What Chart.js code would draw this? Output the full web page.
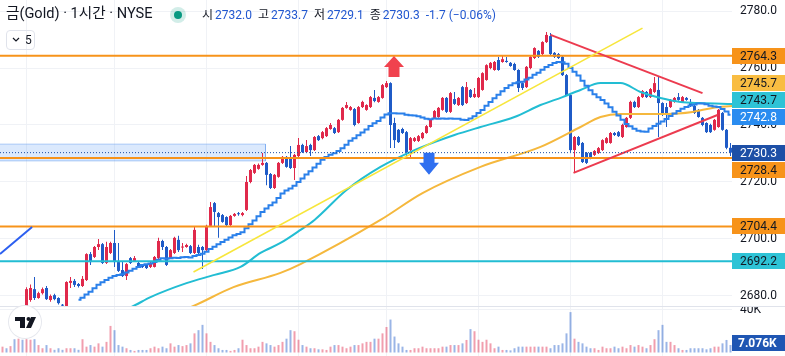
<!DOCTYPE html>
<html><head><meta charset="utf-8">
<script src="https://cdn.jsdelivr.net/npm/chart.js@4.4.0/dist/chart.umd.min.js"></script>
<style>
html,body{margin:0;padding:0;background:#fff;width:785px;height:356px;overflow:hidden;}
#wrap{position:relative;width:785px;height:356px;font-family:Roboto,"Noto Sans CJK KR",sans-serif;color:#131722;}
#pc{position:absolute;left:0;top:0;}
#vc{position:absolute;left:0;top:307px;}
#sep{position:absolute;left:0;top:306px;width:785px;height:1px;background:#e0e3eb;}
#title{position:absolute;left:6px;top:3px;font-size:14.6px;line-height:20px;font-family:Roboto,"Noto Sans CJK KR",sans-serif;white-space:nowrap;}
#dot{position:absolute;left:170px;top:7px;width:16px;height:16px;border-radius:50%;background:rgba(8,153,129,0.18);}
#dot i{position:absolute;left:4px;top:4px;width:8px;height:8px;border-radius:50%;background:#089981;}
#ohlc{position:absolute;left:202px;top:5px;font-size:12px;line-height:20px;white-space:nowrap;}
#ohlc .v{color:#2157d0;margin-right:6px;}
#ohlc .k{color:#131722;margin-right:2px;}
#box5{position:absolute;left:6px;top:30px;width:27px;height:18px;border:1px solid #e0e3eb;border-radius:4px;font-size:12px;line-height:18px;}
#box5 span{position:absolute;left:18px;top:0;}
#box5 svg{position:absolute;left:5px;top:6px;}
#logo{position:absolute;left:9px;top:306px;width:32px;height:32px;border-radius:50%;background:#fff;box-shadow:0 0 0 1px #e6e8ee;}
</style></head>
<body><div id="wrap">
<canvas id="pc" width="785" height="306"></canvas>
<div id="sep"></div>
<canvas id="vc" width="785" height="49"></canvas>
<div id="title">금(Gold) · 1시간 · NYSE</div>
<div id="dot"><i></i></div>
<div id="ohlc"><span class="k">시</span><span class="v">2732.0</span><span class="k">고</span><span class="v">2733.7</span><span class="k">저</span><span class="v">2729.1</span><span class="k">종</span><span class="v">2730.3</span><span class="v">-1.7 (−0.06%)</span></div>
<div id="box5"><svg width="8" height="6" viewBox="0 0 8 6"><polyline points="1,1 4,4 7,1" fill="none" stroke="#131722" stroke-width="1.2"/></svg><span>5</span></div>
<div id="logo"><svg width="32" height="32" viewBox="0 0 32 32"><rect x="6" y="11" width="10" height="4" fill="#131722"/><rect x="11" y="11" width="5" height="11" fill="#131722"/><circle cx="19.5" cy="13" r="2" fill="#131722"/><polygon points="22,11 27,11 22,22 17,22" fill="#131722"/></svg></div>
</div>
<script>
// ---------- data ----------
const opens = [2671.0,2672.0,2671.0,2673.0,2672.0,2674.5,
2674.0,2678.6,2682.4,2679.3,2681.0,2682.8,2678.6,2680.3,2679.3,2676.9,
2676.5,2684.6,2685.3,2684.2,2683.5,2685.6,2694.7,2693.7,2697.2,2698.2,
2691.6,2695.1,2698.6,2691.9,2689.1,2687.0,2693.3,2692.3,2691.6,2690.9,
2690.9,2690.2,2690.2,2693.3,2699.3,2697.2,2693.3,2695.1,2699.7,2697.0,
2697.2,2697.5,2695.1,2697.2,2697.2,2696.1,2704.6,2712.6,2709.1,2708.4,
2707.7,2704.9,2708.1,2708.9,2708.4,2710.2,2720.0,2723.2,2724.6,2726.0,
2726.7,2722.8,2717.9,2721.8,2726.7,2728.8,2728.4,2724.9,2729.1,2733.0,
2730.5,2733.0,2731.2,2736.1,2735.4,2736.1,2738.6,2738.9,2737.5,2741.8,
2746.0,2745.3,2745.6,2740.7,2746.3,2745.3,2746.3,2749.5,2748.1,2749.5,
2753.3,2754.7,2740.7,2738.3,2738.6,2737.5,2731.2,2734.4,2734.4,2735.4,
2737.2,2739.3,2742.5,2742.8,2745.3,2749.5,2744.6,2749.1,2747.0,2753.3,
2747.7,2752.3,2749.8,2749.8,2752.3,2755.8,2760.0,2759.3,2762.8,2762.1,
2762.5,2761.8,2761.4,2759.3,2754.7,2753.3,2760.0,2763.5,2766.0,2764.9,
2769.1,2771.2,2765.3,2764.9,2763.9,2757.5,2750.5,2731.2,2735.8,2733.7,
2730.2,2730.2,2729.5,2730.2,2731.2,2733.7,2733.7,2737.2,2737.5,2735.8,
2739.3,2742.5,2748.1,2746.3,2749.8,2751.6,2749.8,2751.6,2752.3,2747.7,
2746.3,2746.3,2748.1,2749.8,2748.1,2749.5,2748.1,2746.7,2745.3,2742.5,
2740.7,2740.0,2738.3,2739.3,2744.2,2738.3,2732.0];
const highs = [2673.0,2674.0,2673.5,2675.0,2675.5,2676.0,
2683.1,2684.0,2686.7,2681.5,2683.0,2683.5,2680.5,2680.8,2679.6,2677.2,
2685.2,2686.7,2686.0,2684.6,2687.0,2695.0,2695.4,2697.5,2700.0,2698.6,
2699.0,2699.0,2703.2,2698.6,2692.3,2691.6,2693.7,2694.0,2691.9,2691.2,
2691.2,2692.0,2694.0,2700.4,2699.7,2697.5,2696.5,2700.8,2701.1,2698.6,
2698.3,2697.9,2704.6,2698.0,2697.5,2705.0,2713.0,2713.0,2709.5,2708.8,
2708.0,2708.4,2709.1,2709.5,2709.5,2722.1,2724.6,2726.3,2726.5,2730.2,
2727.0,2723.2,2722.8,2727.0,2729.1,2729.1,2732.6,2729.8,2735.4,2733.4,
2734.7,2733.4,2736.1,2736.5,2737.9,2739.3,2740.7,2739.3,2742.1,2746.3,
2748.1,2746.7,2746.0,2746.7,2748.5,2747.3,2750.2,2752.3,2750.2,2754.4,
2755.4,2755.0,2742.5,2738.6,2739.0,2737.9,2735.8,2735.8,2736.5,2737.5,
2740.0,2742.1,2745.3,2746.3,2749.8,2749.8,2751.6,2751.6,2749.8,2753.7,
2755.1,2752.6,2753.0,2756.8,2758.5,2761.3,2762.1,2762.5,2763.9,2764.2,
2763.9,2762.1,2761.8,2759.6,2755.0,2760.7,2764.2,2767.3,2766.3,2769.4,
2772.6,2772.3,2765.6,2765.3,2764.2,2757.9,2750.9,2736.1,2736.1,2734.0,
2730.5,2730.5,2731.2,2732.3,2735.0,2735.8,2737.5,2737.5,2737.9,2740.4,
2742.8,2748.5,2748.5,2750.2,2752.3,2751.9,2753.0,2756.8,2756.8,2748.0,
2747.7,2749.1,2749.8,2751.2,2750.2,2749.8,2749.1,2747.0,2745.6,2742.8,
2741.0,2740.4,2742.1,2745.6,2744.6,2738.6,2733.7];
const lows = [2669.0,2670.0,2669.5,2671.0,2671.0,2672.0,
2673.0,2678.0,2678.6,2679.0,2680.5,2678.6,2678.0,2678.5,2677.0,2675.5,
2676.0,2682.8,2683.2,2683.0,2683.2,2685.3,2690.9,2693.3,2696.1,2691.2,
2691.2,2694.7,2690.2,2688.4,2686.7,2685.6,2691.2,2692.0,2689.8,2689.8,
2689.5,2689.8,2690.0,2693.0,2696.1,2690.5,2693.0,2694.7,2695.4,2695.4,
2696.9,2694.7,2694.7,2694.7,2689.5,2695.8,2704.3,2704.2,2700.4,2705.7,
2704.6,2704.6,2707.8,2708.2,2708.0,2709.8,2719.6,2722.8,2724.3,2725.7,
2718.9,2717.5,2717.5,2721.5,2726.3,2725.0,2724.6,2720.7,2728.8,2730.2,
2730.2,2729.1,2730.9,2734.4,2735.0,2735.8,2738.3,2736.8,2737.2,2741.5,
2745.7,2745.0,2739.6,2740.4,2746.0,2745.0,2746.0,2748.0,2747.8,2749.2,
2753.0,2731.9,2731.9,2733.7,2736.8,2728.8,2728.8,2734.0,2734.0,2735.0,
2736.9,2739.0,2742.1,2742.5,2745.0,2744.2,2744.2,2747.0,2746.7,2746.7,
2747.4,2749.5,2749.5,2749.5,2752.0,2755.5,2759.6,2759.0,2759.0,2761.8,
2761.8,2760.4,2759.0,2751.6,2752.3,2753.0,2759.6,2763.2,2763.5,2764.6,
2768.8,2764.6,2763.5,2763.2,2757.2,2750.2,2730.5,2723.2,2732.6,2726.7,
2726.3,2728.0,2729.1,2729.8,2730.9,2733.4,2733.4,2736.1,2735.8,2735.4,
2739.0,2742.1,2746.0,2746.0,2749.5,2749.5,2749.5,2751.2,2735.8,2743.2,
2739.3,2746.0,2747.8,2748.5,2747.8,2748.5,2746.3,2743.9,2742.5,2739.6,
2737.2,2737.2,2738.0,2739.0,2738.0,2731.5,2729.1];
const closes = [2672.0,2671.0,2673.0,2672.0,2674.5,2673.5,
2682.4,2682.8,2679.3,2681.0,2682.4,2678.9,2680.0,2678.9,2677.5,2676.6,
2684.9,2685.3,2683.9,2683.5,2686.0,2694.7,2691.9,2697.2,2698.2,2691.6,
2697.2,2698.6,2691.9,2688.8,2687.0,2691.2,2691.6,2693.3,2690.2,2690.2,
2689.8,2691.6,2693.7,2699.3,2697.2,2690.9,2696.1,2700.4,2696.1,2697.3,
2697.9,2695.1,2703.2,2695.1,2696.1,2704.6,2711.2,2709.5,2707.7,2706.0,
2704.9,2708.1,2708.8,2708.7,2709.1,2720.0,2724.2,2726.0,2726.0,2726.7,
2722.5,2717.9,2722.5,2726.7,2728.8,2725.3,2724.9,2729.5,2733.0,2730.5,
2732.6,2731.2,2735.8,2734.7,2737.5,2738.9,2740.0,2737.2,2741.8,2746.0,
2747.0,2746.3,2740.0,2746.3,2748.1,2747.0,2749.8,2748.4,2749.8,2754.0,
2754.7,2740.0,2734.7,2734.0,2737.2,2730.5,2735.4,2735.4,2736.1,2737.2,
2739.6,2741.8,2744.9,2746.0,2749.5,2744.6,2751.2,2747.4,2749.5,2747.0,
2753.3,2749.8,2750.9,2756.5,2758.2,2761.0,2761.8,2762.1,2759.3,2763.1,
2762.1,2760.7,2759.3,2753.0,2753.0,2760.4,2763.9,2767.0,2763.9,2769.1,
2771.6,2764.9,2763.9,2763.5,2757.5,2750.5,2731.2,2735.8,2733.0,2727.0,
2726.7,2728.4,2730.9,2731.9,2734.7,2735.4,2737.2,2736.5,2736.1,2740.0,
2742.5,2748.1,2746.3,2749.8,2751.9,2749.8,2752.6,2754.7,2747.7,2743.5,
2744.2,2748.8,2749.5,2748.8,2749.8,2748.8,2746.7,2744.2,2742.8,2740.0,
2737.5,2737.5,2741.8,2745.3,2738.3,2732.0,2730.3];
// volume in thousands
const volumesK = [5.5,4,6,12.5,13,12,12.5,12,12.5,7,
4,7,4,2.5,4,2.5,4,4,4,2.5,
12.5,5.5,7,5.5,8.6,5.5,10,25,21,7,
5.5,4,2.4,1.5,2.4,2.4,2.4,4,5.5,4,
5.5,4,8.6,5.5,7,6,7,8.6,18,21,
26,18,10,7,4,2.4,2.4,1.5,2.4,4,
12,7,4,4,5.5,10,8.6,7,5.5,7,
10,13,21,20,12,7,5.5,4,4,3,
3,2.4,5.5,7,7,5.5,4,5.5,7,7,
8.6,10,10,13,13,18,24,31,15,8.6,
5.5,2.4,2.4,4,4,5.5,4,4,4,4,
5.5,5.5,7,7,7,8.6,11.8,22,20,12,
10,12,8.6,4,5.5,2.4,2.4,2,4,5.5,
5.5,5.5,5.5,5.5,5.5,5.5,5.5,4,7,7,
8.6,18,38,13,10,8.6,5.5,4,4,2.4,
5.5,4,4,5.5,4,5.5,4,7,5.5,7,
5.5,4,7,12.5,21,26,10,10,7,4,
2.4,2.4,4,4,4,4,3,4,5.5,5.5,
8.6,11.8,7.076];

const priceTicks = [2680, 2700, 2720, 2740, 2760, 2780];
const sessionStarts = [6, 28, 51, 74, 96, 119, 142, 165];
const orangeLevels = [2764.3, 2728.4, 2704.4];
const cyanLevels = [2692.2];
const lastPrice = 2730.3;
const zoneTop = 2733.3, zoneBottom = 2727.4, zoneEnd = 65.75;
const cyanMA = [[26,2672.5],[32.75,2676.5],[37,2679.6],[46,2684.5],[53,2687.4],[59.5,2690.2],[64.5,2695.1],[69.5,2698.6],[74.5,2703.2],[78,2706.7],[86,2717.2],[94.5,2725.3],[103,2731.2],[108,2734.0],[113,2736.5],[119.5,2739.3],[128,2742.8],[134.5,2747.0],[140,2749.8],[144.5,2752.3],[149.5,2754.7],[154.5,2754.7],[159.5,2751.6],[164.5,2749.5],[169.5,2748.1],[174.5,2747.7],[182.4,2747.4]];
const goldMA = [[42,2673.5],[47.75,2676.5],[57.75,2683.1],[69.5,2688.1],[74.5,2691.2],[94.5,2706.7],[105,2716.1],[119.5,2725.3],[134.5,2732.3],[144.5,2739.3],[149.5,2742.8],[154.5,2743.9],[166,2743.9],[172.5,2744.6],[177.5,2746.0],[182.4,2746.7]];
const yellowTrend = [[47.75,2688.4],[160,2774.0]];
const redUpper = [[137,2771.6],[175,2751.2]];
const redLower = [[142.75,2723.2],[178.75,2743.5]];
const blueTrend = [[-0.625,2694.7],[7.4,2704.2]];
const arrowUp = [97.75, 2764.2];
const arrowDown = [106.5, 2722.5];
const markValues = [2764.3, 2745.7, 2743.7, 2742.8, 2730.3, 2728.4, 2704.4, 2692.2];
const lastVolumeK = 7.076;

// ---------- styles ----------
const UP = '#e0294b', DN = '#1f5bc7';
const ORANGE = '#f7931a', CYAN = '#22bdd3', GOLD = '#f5b83d', MABLUE = '#2a80ea';
const markBg = [ORANGE, '#f9bd42', '#2ec3d6', '#2a8cf0', '#1d4fa6', ORANGE, ORANGE, '#2ec3d6'];
const markFg = ['#131722', '#131722', '#131722', '#ffffff', '#ffffff', '#131722', '#131722', '#131722'];
const GRID = '#f0f2f6';
const XMIN = -0.625, XMAX = 182.375;
const YMIN = 2676.49, YMAX = 2783.86;

const idx = closes.map((_, i) => i);
const colors = idx.map(i => closes[i] >= opens[i] ? UP : DN);
const sma20 = idx.map(i => i < 19 ? null : closes.slice(i - 19, i + 1).reduce((a, b) => a + b, 0) / 20);
const pts = arr => arr.map(p => ({x: p[0], y: p[1]}));
const hline = v => [{x: XMIN, y: v}, {x: XMAX, y: v}];

Chart.defaults.font.family = 'Roboto';
Chart.defaults.font.size = 12;
Chart.defaults.color = '#131722';

function lineDS(data, color, width, order, extra) {
  return Object.assign({type: 'line', data, borderColor: color, borderWidth: width, pointRadius: 0,
    fill: false, tension: 0, order, clip: 0, spanGaps: true}, extra || {});
}
const noPad = s => { s.paddingTop = 0; s.paddingBottom = 0; s.paddingLeft = 0; s.paddingRight = 0; };

const drawPlugin = {
  id: 'drawings',
  afterDatasetsDraw(chart) {
    const {ctx, scales: {x, y}, chartArea: a} = chart;
    ctx.save();
    ctx.beginPath(); ctx.rect(a.left, a.top, a.width, a.height); ctx.clip();
    let px = Math.round(x.getPixelForValue(arrowUp[0])), py = y.getPixelForValue(arrowUp[1]);
    ctx.fillStyle = '#f0424e';
    ctx.beginPath();
    ctx.moveTo(px, py); ctx.lineTo(px + 10, py + 11); ctx.lineTo(px + 5.5, py + 11); ctx.lineTo(px + 5.5, py + 21);
    ctx.lineTo(px - 5.5, py + 21); ctx.lineTo(px - 5.5, py + 11); ctx.lineTo(px - 10, py + 11); ctx.closePath(); ctx.fill();
    px = Math.round(x.getPixelForValue(arrowDown[0])); py = y.getPixelForValue(arrowDown[1]);
    ctx.fillStyle = '#2f6ff0';
    ctx.beginPath();
    ctx.moveTo(px, py); ctx.lineTo(px + 10, py - 12); ctx.lineTo(px + 5.5, py - 12); ctx.lineTo(px + 5.5, py - 22);
    ctx.lineTo(px - 5.5, py - 22); ctx.lineTo(px - 5.5, py - 12); ctx.lineTo(px - 10, py - 12); ctx.closePath(); ctx.fill();
    ctx.restore();
  },
  afterDraw(chart) {
    const {ctx, scales: {y}, chartArea: a} = chart;
    const H = 17;
    const items = markValues.map((v, i) => ({v, y: y.getPixelForValue(v), bg: markBg[i], fg: markFg[i]}));
    const fixed = items.find(it => it.v === lastPrice);
    let prev = fixed.y;
    items.filter(it => it !== fixed && it.y <= fixed.y).sort((p, q) => q.y - p.y)
      .forEach(it => { it.y = Math.min(it.y, prev - H); prev = it.y; });
    prev = fixed.y;
    items.filter(it => it !== fixed && it.y > fixed.y).sort((p, q) => p.y - q.y)
      .forEach(it => { it.y = Math.max(it.y, prev + H); prev = it.y; });
    ctx.save();
    ctx.font = '12px Roboto';
    ctx.textBaseline = 'middle';
    items.forEach(it => {
      const cy = Math.round(it.y);
      ctx.fillStyle = it.bg;
      ctx.fillRect(a.right, cy - 8, chart.width - a.right, 16);
      ctx.fillStyle = it.fg;
      ctx.fillText(it.v.toFixed(1), a.right + 8, cy + 1);
    });
    ctx.restore();
  }
};

function makeX() {
  return {
    type: 'linear', min: XMIN, max: XMAX, display: true, offset: false,
    ticks: {display: false}, border: {display: false},
    grid: {color: GRID, drawTicks: false, offset: false},
    afterBuildTicks: s => { s.ticks = sessionStarts.map(v => ({value: v})); },
    afterFit: s => { s.height = 0; noPad(s); }
  };
}

new Chart(document.getElementById('pc'), {
  data: {
    datasets: [
      lineDS([{x: XMIN, y: zoneTop}, {x: zoneEnd, y: zoneTop}], 'rgba(120,170,240,0.55)', 1, 30,
        {fill: '+1', backgroundColor: 'rgba(33,120,243,0.16)'}),
      lineDS([{x: XMIN, y: zoneBottom}, {x: zoneEnd, y: zoneBottom}], 'rgba(120,170,240,0.55)', 1, 30),
      lineDS([{x: zoneEnd, y: zoneTop}, {x: zoneEnd, y: zoneBottom}], 'rgba(120,170,240,0.55)', 1, 30),
      {type: 'bar', data: idx.map(i => ({x: i, y: [lows[i], highs[i]]})), backgroundColor: colors,
        barThickness: 1, grouped: false, inflateAmount: 0, borderWidth: 0, minBarLength: 1, order: 12},
      {type: 'bar', data: idx.map(i => ({x: i, y: [opens[i], closes[i]]})), backgroundColor: colors,
        barThickness: 3, grouped: false, inflateAmount: 0, borderWidth: 0, minBarLength: 1, order: 11},
      lineDS(pts(goldMA), GOLD, 2, 6, {cubicInterpolationMode: 'monotone'}),
      lineDS(pts(cyanMA), CYAN, 2, 6, {cubicInterpolationMode: 'monotone'}),
      lineDS(idx.map(i => ({x: i, y: sma20[i]})), MABLUE, 2, 5, {stepped: 'middle'}),
      ...orangeLevels.map(v => lineDS(hline(v), ORANGE, 2, 3)),
      ...cyanLevels.map(v => lineDS(hline(v), CYAN, 2, 3)),
      lineDS(pts(yellowTrend), '#f7e63c', 1.6, 2),
      lineDS(pts(redUpper), '#ec3b4f', 2, 2),
      lineDS(pts(redLower), '#ec3b4f', 2, 2),
      lineDS(pts(blueTrend), '#2c5ff0', 2, 2),
      lineDS(hline(lastPrice), '#1d4fa6', 1, 1, {borderDash: [1, 2]})
    ]
  },
  options: {
    responsive: false, animation: false, devicePixelRatio: 1,
    layout: {padding: 0, autoPadding: false},
    plugins: {legend: {display: false}, tooltip: {enabled: false}},
    scales: {
      x: makeX(),
      y: {
        position: 'right', min: YMIN, max: YMAX,
        afterBuildTicks: s => { s.ticks = priceTicks.map(v => ({value: v})); },
        afterFit: s => { s.width = 53; noPad(s); },
        ticks: {padding: 8, color: '#131722', font: {size: 12}, callback: v => Number(v).toFixed(1)},
        grid: {color: GRID, drawTicks: false}, border: {display: false}
      }
    }
  },
  plugins: [drawPlugin]
});

const volPlugin = {
  id: 'volLabel',
  afterDraw(chart) {
    const {ctx, scales: {y}, chartArea: a} = chart;
    const cy = Math.round(y.getPixelForValue(lastVolumeK * 1000)) - 2;
    ctx.save();
    ctx.fillStyle = '#1f56b3';
    ctx.fillRect(a.right, cy - 8, chart.width - a.right, 16);
    ctx.fillStyle = '#fff';
    ctx.font = 'bold 12px Roboto';
    ctx.textBaseline = 'middle';
    ctx.fillText(lastVolumeK.toFixed(3) + 'K', a.right + 6, cy + 1);
    ctx.restore();
  }
};

new Chart(document.getElementById('vc'), {
  data: {
    datasets: [{type: 'bar', data: idx.map(i => ({x: i, y: volumesK[i] * 1000})),
      backgroundColor: idx.map(i => closes[i] >= opens[i] ? 'rgba(224,41,75,0.45)' : 'rgba(31,91,199,0.45)'),
      barThickness: 2, grouped: false, inflateAmount: 0, borderWidth: 0}]
  },
  options: {
    responsive: false, animation: false, devicePixelRatio: 1,
    layout: {padding: 0, autoPadding: false},
    plugins: {legend: {display: false}, tooltip: {enabled: false}},
    scales: {
      x: makeX(),
      y: {
        position: 'right', min: -3300, max: 42800,
        afterBuildTicks: s => { s.ticks = [{value: 40000}]; },
        afterFit: s => { s.width = 53; noPad(s); },
        ticks: {padding: 8, color: '#131722', font: {size: 12}, callback: v => (v / 1000) + 'K'},
        grid: {color: GRID, drawTicks: false}, border: {display: false}
      }
    }
  },
  plugins: [volPlugin]
});
</script>
</body></html>
